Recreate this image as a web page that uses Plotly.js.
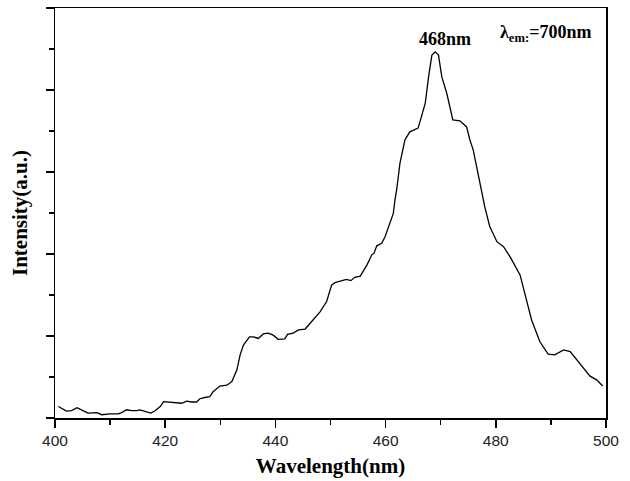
<!DOCTYPE html>
<html>
<head>
<meta charset="utf-8">
<script src="https://cdn.plot.ly/plotly-3.0.1.min.js"></script>
<style>html,body{margin:0;padding:0;background:#fff;}#chart{width:630px;height:481px;}</style>
</head>
<body>
<div id="chart"></div>
<script>
const wavelength = [400.6,402.1,403,404,404.8,406,407.6,408.5,410,411.5,412.1,413,413.9,414.8,415.4,416.3,417.4,418.1,419.1,419.7,420.9,422.1,423,423.9,424.8,425.7,426.3,427.2,428.1,428.7,429.9,431.2,432.1,433,433.6,434.2,435.3,436,436.9,437.8,438.7,439.6,440.5,441.7,442.2,443.2,444.2,445.4,446.3,446.9,448.1,449.3,450.2,450.8,452,452.9,453.7,454.4,455.4,456.6,457.5,457.9,458.4,459.3,459.9,460.5,461.4,461.7,462,462.6,463.5,464.4,465.9,466.5,467.2,467.8,468.4,469,469.6,470.2,471.1,472.2,473.5,474.7,475.3,475.9,476.8,478,478.9,480.2,481.4,482.6,484.4,485.6,486.5,488,489.5,490.7,492.3,493.5,494.7,495.9,497.1,498.3,499.4];
const intensity = [0.28,0.17,0.18,0.25,0.2,0.12,0.13,0.08,0.1,0.1,0.13,0.2,0.18,0.18,0.2,0.17,0.12,0.17,0.28,0.4,0.39,0.38,0.36,0.41,0.39,0.39,0.47,0.5,0.52,0.64,0.78,0.8,0.89,1.17,1.54,1.78,1.98,1.98,1.94,2.05,2.07,2.02,1.92,1.93,2.04,2.07,2.15,2.17,2.31,2.43,2.59,2.84,3.24,3.3,3.34,3.38,3.35,3.43,3.46,3.73,3.98,4.02,4.2,4.26,4.42,4.63,4.99,5.32,5.56,6.21,6.78,6.98,7.07,7.35,7.68,8.32,8.85,8.93,8.85,8.32,7.92,7.27,7.25,7.1,6.78,6.54,5.97,5.15,4.67,4.3,4.18,3.93,3.49,2.88,2.39,1.86,1.56,1.54,1.66,1.62,1.41,1.21,1.02,0.93,0.78];
const xTickVals = [400,420,440,460,480,500];
const xTitle = 'Wavelength(nm)';
const yTitle = 'Intensity(a.u.)';
const peakLabel = '468nm';
const peakPos = [470.8, 9.24];
const emLabel = 'λ<sub>em:</sub>=700nm';
const emPos = [489.0, 9.39];

const serif = '"Liberation Serif", "Times New Roman", serif';
const sans = '"Liberation Sans", Arial, sans-serif';

Plotly.newPlot('chart', [{
  x: wavelength, y: intensity, type: 'scatter', mode: 'lines',
  line: {color: '#000', width: 1.3}, hoverinfo: 'skip'
}], {
  width: 630, height: 481,
  margin: {l: 55, r: 24, t: 8, b: 63},
  paper_bgcolor: '#fff', plot_bgcolor: '#fff',
  showlegend: false,
  xaxis: {
    range: [400, 500], tickvals: xTickVals, ticktext: xTickVals.map(String),
    ticks: 'outside', ticklen: 8, tickwidth: 1.5, tickcolor: '#000',
    minor: {dtick: 10, tick0: 400, ticks: 'outside', ticklen: 5, tickwidth: 1.5, tickcolor: '#000', showgrid: false},
    showline: true, linecolor: '#000', linewidth: 1.5, mirror: true,
    showgrid: false, zeroline: false,
    tickfont: {family: sans, size: 15.5, color: '#222'},
    title: {text: xTitle, font: {family: serif, size: 21, color: '#000', weight: 'bold'}, standoff: 10}
  },
  yaxis: {
    range: [0, 10], dtick: 2, tick0: 0,
    ticks: 'outside', ticklen: 8, tickwidth: 1.5, tickcolor: '#000',
    minor: {dtick: 2, tick0: 1, ticks: 'outside', ticklen: 5, tickwidth: 1.5, tickcolor: '#000', showgrid: false},
    showticklabels: false,
    showline: true, linecolor: '#000', linewidth: 1.5, mirror: true,
    showgrid: false, zeroline: false,
    title: {text: yTitle, font: {family: serif, size: 21, color: '#000', weight: 'bold'}, standoff: 12}
  },
  annotations: [
    {x: peakPos[0], y: peakPos[1], xref: 'x', yref: 'y', text: '<b>' + peakLabel + '</b>', showarrow: false,
     font: {family: serif, size: 18, color: '#000'}},
    {x: emPos[0], y: emPos[1], xref: 'x', yref: 'y', text: '<b>' + emLabel + '</b>', showarrow: false,
     font: {family: serif, size: 18, color: '#000'}}
  ]
}, {staticPlot: true, displayModeBar: false});
</script>
</body>
</html>
